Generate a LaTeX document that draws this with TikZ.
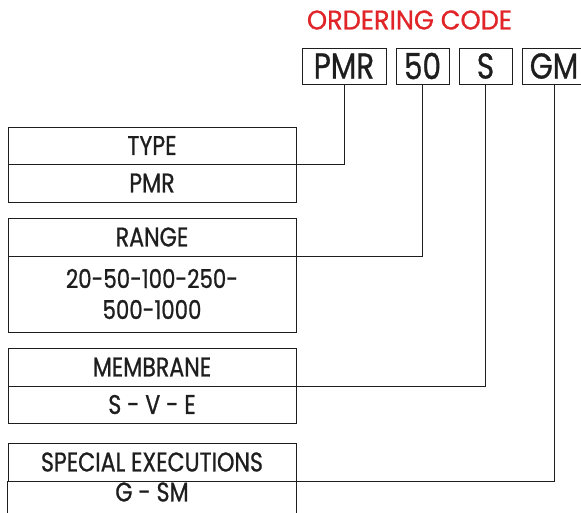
\documentclass[tikz,border=0pt]{standalone}
\usepackage{fontspec}
\setmainfont{Poppins}[FakeStretch=0.82, FakeBold=0.8]
\newfontfamily\titlefont{Poppins}[FakeStretch=0.95, FakeBold=0.8]
\definecolor{ordred}{RGB}{224,36,40}
\definecolor{ink}{RGB}{30,30,30}

\tikzset{
  codebox/.style={draw=ink, line width=0.9pt, minimum height=36pt, inner sep=0pt, text=ink, font=\fontsize{36}{40}\selectfont},
  fieldbox/.style={draw=ink, line width=0.9pt, minimum width=288pt, inner sep=0pt, text=ink, font=\fontsize{27}{31}\selectfont, align=center},
  link/.style={draw=ink, line width=0.8pt}
}

\begin{document}
\begin{tikzpicture}[x=1pt, y=-1pt]
    \useasboundingbox (0,0) rectangle (581,512);

    % Titel
    \node[text=ordred, font=\titlefont\fontsize{27}{30}\selectfont] (title) at (409.5,20) {ORDERING CODE};

    % Bestellcode
    \node[codebox, minimum width=84pt] (cpmr) at (344,66) {PMR};
    \node[codebox, minimum width=53pt] (cfifty) at (422.5,66) {50};
    \node[codebox, minimum width=53pt] (cs) at (485.5,66) {S};
    \node[codebox, minimum width=64pt] (cgm) at (554,66) {GM};

    % Felder
    \node[fieldbox, minimum height=37pt] (typeh) at (152,145.5) {TYPE};
    \node[fieldbox, minimum height=38pt] (typev) at (152,183) {PMR};
    \node[fieldbox, minimum height=38pt] (rangeh) at (152,237) {RANGE};
    \node[fieldbox, minimum height=76pt, font=\fontsize{26}{31}\selectfont] (rangev) at (152,294) {20-50-100-250-\\500-1000};
    \node[fieldbox, minimum height=38pt] (membh) at (152,367) {MEMBRANE};
    \node[fieldbox, minimum height=37pt] (membv) at (152,404.5) {S - V - E};
    \node[fieldbox, minimum height=38pt] (spech) at (152,462) {SPECIAL EXECUTIONS};
    \node[fieldbox, draw=none, minimum height=0pt] (specv) at (152,492) {G - SM};
    \draw[draw=ink, line width=0.9pt] (spech.south west) -- ++(0,40) (spech.south east) -- ++(0,40);

    % Verbindungen
    \draw[link] (typeh.south east) -| (cpmr.south);
    \draw[link] (rangeh.south east) -| (cfifty.south);
    \draw[link] (membh.south east) -| (cs.south);
    \draw[link] (spech.south east) -| (cgm.south);
\end{tikzpicture}
\end{document}
